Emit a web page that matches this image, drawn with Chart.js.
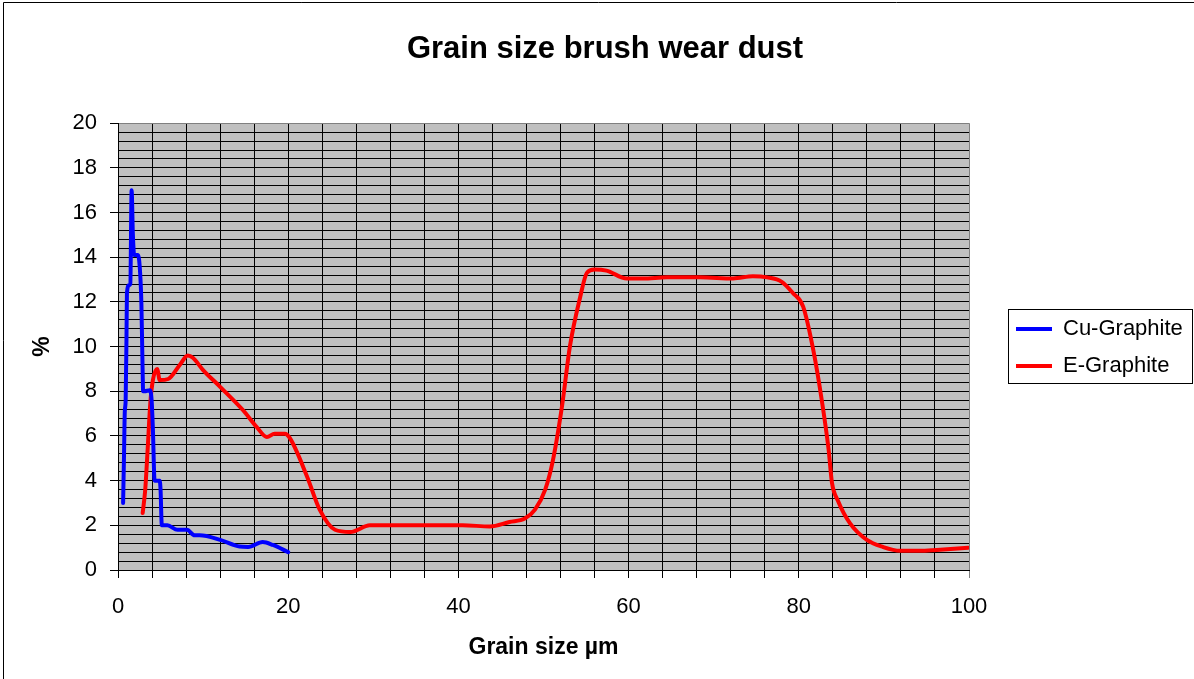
<!DOCTYPE html>
<html>
<head>
<meta charset="utf-8">
<script src="https://cdn.jsdelivr.net/npm/chart.js@4.4.1/dist/chart.umd.min.js"></script>
<style>
html, body { margin: 0; padding: 0; background: #fff; }
canvas { display: block; }
</style>
</head>
<body>
<canvas id="granos" width="1194" height="679"></canvas>
<script>
// Cu-Graphite
var cuX = [0.6, 0.7, 0.8, 0.9, 1.0, 1.05, 1.3, 1.45, 1.6, 1.75, 1.9, 2.35, 2.6, 2.75, 2.85, 2.9, 2.95, 3.1, 3.75, 3.95, 4.1, 4.3, 4.9, 5.0, 5.15, 5.8, 7.0, 8.1, 9.0, 9.6, 12.0, 14.3, 15.3, 17.0, 18.2, 20.0];
var cuY = [3.0, 5.0, 7.1, 7.6, 10.5, 12.4, 12.75, 12.8, 17.0, 15.0, 14.1, 14.1, 13.3, 11.9, 9.85, 8.8, 8.0, 8.0, 8.05, 7.6, 6.3, 4.0, 4.0, 3.6, 2.0, 2.0, 1.8, 1.8, 1.55, 1.55, 1.35, 1.05, 1.03, 1.25, 1.12, 0.8];
// E-Graphite
var eX = [2.9, 3.2, 3.5, 3.8, 4.1, 4.6, 4.9, 5.9, 7.3, 8.2, 8.8, 10.0, 12.0, 14.7, 16.3, 17.5, 18.4, 19.6, 20.2, 22.2, 23.7, 25.5, 27.3, 29.6, 35.0, 40.5, 43.7, 46.0, 47.8, 49.0, 50.2, 51.1, 52.2, 53.1, 54.3, 55.1, 56.0, 57.4, 59.8, 61.7, 64.5, 68.4, 72.3, 74.6, 76.3, 78.0, 79.3, 80.5, 81.7, 82.7, 83.5, 83.9, 84.6, 86.0, 88.0, 89.9, 91.9, 94.2, 96.2, 99.9];
var eY = [2.55, 3.6, 5.5, 7.5, 8.5, 9.0, 8.5, 8.55, 9.2, 9.6, 9.5, 8.95, 8.2, 7.15, 6.4, 5.95, 6.1, 6.1, 5.9, 4.2, 2.7, 1.8, 1.7, 2.0, 2.0, 2.0, 1.95, 2.15, 2.3, 2.7, 3.6, 4.9, 7.4, 10.0, 12.2, 13.3, 13.45, 13.4, 13.05, 13.05, 13.1, 13.1, 13.05, 13.15, 13.1, 12.9, 12.4, 11.8, 9.85, 7.6, 5.4, 3.9, 3.1, 2.1, 1.35, 1.03, 0.86, 0.86, 0.9, 1.0];

var xEtiquetas = [0, 20, 40, 60, 80, 100];
var yEtiquetas = [0, 2, 4, 6, 8, 10, 12, 14, 16, 18, 20];

function puntos(xs, ys) {
	return xs.map(function (x, i) { return { x: x, y: ys[i] }; });
}
function esEtiqueta(lista, v) {
	for (var i = 0; i < lista.length; i++) {
		if (Math.abs(lista[i] - v) < 1e-6) return true;
	}
	return false;
}

var ANCHO_LEYENDA = 225;
var MOVER_LEYENDA = 32;
var BAJAR_LEYENDA = 8;
var MOVER_TITULO = 8;

var marco = {
	id: 'marco',
	afterInit: function (chart) {
		var lg = chart.legend;
		var fit = lg.fit;
		lg.fit = function () {
			fit.call(this);
			this.width = ANCHO_LEYENDA;
		};
	},
	afterLayout: function (chart) {
		chart.legend.left += MOVER_LEYENDA;
		chart.legend.right += MOVER_LEYENDA;
		chart.legend.top += BAJAR_LEYENDA;
		chart.legend.bottom += BAJAR_LEYENDA;
		if (chart.titleBlock) {
			chart.titleBlock.left += MOVER_TITULO;
			chart.titleBlock.right += MOVER_TITULO;
		}
	},
	beforeDraw: function (chart) {
		var ctx = chart.ctx, a = chart.chartArea;
		ctx.save();
		ctx.fillStyle = '#fff';
		ctx.fillRect(0, 0, chart.width, chart.height);
		ctx.fillStyle = '#c0c0c0';
		ctx.fillRect(a.left, a.top, a.right - a.left, a.bottom - a.top);
		ctx.restore();
	},
	afterDraw: function (chart) {
		var ctx = chart.ctx;
		var cajas = chart.legend.legendHitBoxes;
		ctx.save();
		ctx.strokeStyle = '#000';
		ctx.lineWidth = 1;
		if (cajas && cajas.length) {
			var arriba = cajas[0].top - 9;
			var abajo = cajas[cajas.length - 1].top + cajas[cajas.length - 1].height + 6;
			var izq = cajas[0].left - 8;
			ctx.strokeRect(Math.round(izq) + 0.5, Math.round(arriba) + 0.5, chart.width - 2 - Math.round(izq), Math.round(abajo - arriba));
		}
		// borde del gráfico
		ctx.beginPath();
		ctx.moveTo(3.5, chart.height);
		ctx.lineTo(3.5, 2.5);
		ctx.lineTo(chart.width, 2.5);
		ctx.stroke();
		ctx.restore();
	}
};

Chart.defaults.font.family = "'Liberation Sans', Arial, sans-serif";
Chart.defaults.color = '#000';

var granos = document.getElementById('granos').getContext('2d');
var chart = new Chart(granos, {
	type: 'line',
	data: {
		datasets: [{
			label: 'Cu-Graphite',
			data: puntos(cuX, cuY),
			borderColor: '#0000ff',
			backgroundColor: '#0000ff',
			borderWidth: 4,
			pointRadius: 0,
			cubicInterpolationMode: 'monotone',
			borderCapStyle: 'round',
			borderJoinStyle: 'round',
			fill: false
		}, {
			label: 'E-Graphite',
			data: puntos(eX, eY),
			borderColor: '#ff0000',
			backgroundColor: '#ff0000',
			borderWidth: 4,
			pointRadius: 0,
			cubicInterpolationMode: 'monotone',
			borderCapStyle: 'round',
			borderJoinStyle: 'round',
			fill: false
		}]
	},
	options: {
		responsive: false,
		animation: false,
		devicePixelRatio: 1,
		layout: { padding: 0 },
		scales: {
			x: {
				type: 'linear',
				min: 0,
				max: 100,
				ticks: {
					stepSize: 4,
					autoSkip: false,
					maxRotation: 0,
					padding: 16,
					font: { size: 22 },
					callback: function (v) { return esEtiqueta(xEtiquetas, v) ? Math.round(v) : ''; }
				},
				grid: {
					color: function (c) { return c.tick && c.tick.value === 100 ? '#808080' : '#000'; },
					lineWidth: 1,
					tickLength: 8
				},
				border: { color: '#000', width: 1 },
				title: {
					display: true,
					text: 'Grain size µm',
					font: { size: 23, weight: 'bold' },
					padding: { top: 0, bottom: 18 }
				},
				afterFit: function (s) { s.height = 109; }
			},
			y: {
				min: 0,
				max: 20,
				ticks: {
					stepSize: 0.4,
					autoSkip: false,
					padding: 13,
					font: { size: 22 },
					callback: function (v) { return esEtiqueta(yEtiquetas, v) ? Math.round(v) : ''; }
				},
				grid: {
					color: function (c) { return c.tick && Math.abs(c.tick.value - 20) < 1e-6 ? '#808080' : '#000'; },
					tickColor: function (c) { return c.tick && esEtiqueta(yEtiquetas, c.tick.value) ? '#000' : 'rgba(0,0,0,0)'; },
					lineWidth: 1,
					tickLength: 8
				},
				border: { color: '#000', width: 1 },
				title: {
					display: true,
					text: '%',
					font: { size: 23, weight: 'bold' },
					padding: { top: 29, bottom: 0 }
				},
				afterFit: function (s) { s.width = 118; }
			}
		},
		plugins: {
			title: {
				display: true,
				text: 'Grain size brush wear dust',
				font: { size: 31, weight: 'bold' },
				color: '#000',
				padding: { top: 31, bottom: 55 }
			},
			legend: {
				position: 'right',
				labels: {
					boxWidth: 36,
					boxHeight: 4,
					padding: 15,
					font: { size: 22 },
					color: '#000',
					generateLabels: function (ch) {
						return Chart.defaults.plugins.legend.labels.generateLabels(ch).map(function (l) {
							l.lineWidth = 0;
							return l;
						});
					}
				}
			},
			tooltip: { enabled: false }
		}
	},
	plugins: [marco]
});
</script>
</body>
</html>
